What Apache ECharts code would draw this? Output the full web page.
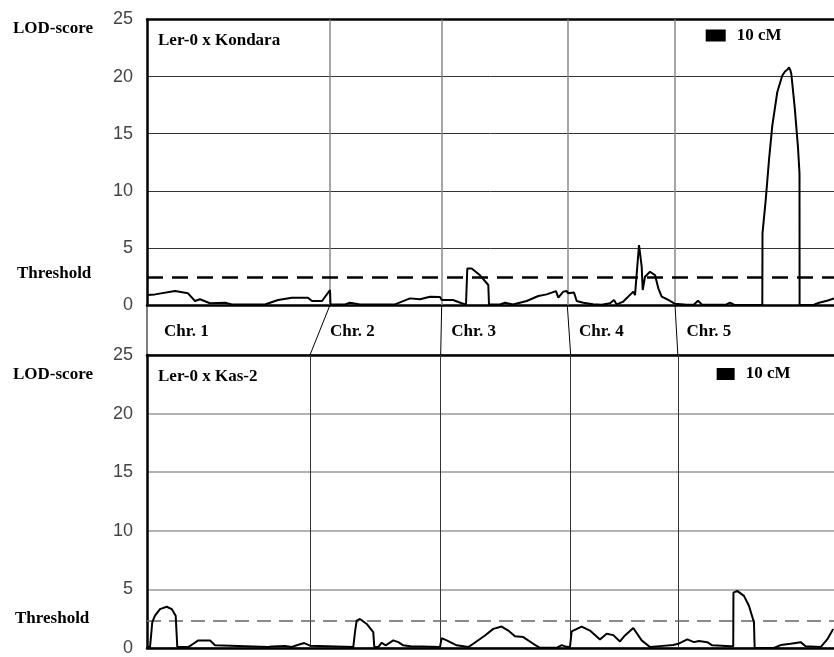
<!DOCTYPE html>
<html><head><meta charset="utf-8">
<script src="https://cdn.jsdelivr.net/npm/echarts@6/dist/echarts.min.js"></script>
<style>html,body{margin:0;padding:0;background:#fff}#c{width:834px;height:657px}</style>
</head><body><div id="c"></div>
<script>
// ---- data ----
const chromosomes = ['Chr. 1', 'Chr. 2', 'Chr. 3', 'Chr. 4', 'Chr. 5'];
const panelTitles = ['Ler-0 x Kondara', 'Ler-0 x Kas-2'];
const yTicks = [0, 5, 10, 15, 20, 25];
// chromosome boundaries (cM along the map) in each cross
const kondaraBounds = [91.5, 147.35, 210.15, 264];
const kas2Bounds = [90.56, 163.17, 235.39, 294.94];
const kondaraXMax = 343.5;
const kas2XMax = 381.7;
const kondaraThreshold = 2.4;
const kas2Threshold = 2.3;
// LOD profile: [position cM, LOD]
const kondaraLOD = [[0,0.87],[4,0.93],[14,1.22],[20.5,1.02],[24,0.35],[26.5,0.5],[31.5,0.15],[39,0.2],[42.5,0.05],[59,0.05],[65.5,0.44],[72.5,0.64],[80.5,0.64],[82.5,0.35],[87.5,0.35],[91.5,1.31],[91.75,0.05],[99,0.05],[101.5,0.2],[106.5,0.05],[124,0.05],[131.5,0.58],[136.5,0.5],[141.5,0.73],[146.5,0.7],[147.35,0.44],[153,0.44],[157.35,0.15],[159.5,0.05],[160.15,3.2],[162.35,3.2],[166.5,2.6],[170.65,1.75],[171,0.05],[176.5,0.05],[179,0.2],[183,0.05],[189.85,0.35],[195.65,0.79],[199.85,0.93],[204.5,1.22],[205.65,0.64],[208.15,1.17],[209.85,1.22],[210.65,1.02],[213.5,1.1],[214.85,0.35],[218.15,0.2],[223,0.07],[227.35,0.03],[231.5,0.15],[233.5,0.44],[234.85,0.05],[238.15,0.3],[243.15,1.17],[244,0.87],[246,5.25],[247.35,3.35],[247.85,1.31],[249,2.47],[251.5,2.91],[254,2.62],[255.65,1.46],[257.35,0.73],[260.65,0.44],[264,0.1],[269.85,0.03],[273.5,0.05],[275.5,0.37],[277.5,0.03],[289.5,0.03],[291.5,0.2],[293.5,0.03],[307.65,0],[307.75,6.3],[309.35,9.18],[311,12.7],[312.65,15.7],[315.15,18.65],[317.65,20.1],[319,20.45],[320.15,20.6],[321,20.8],[321.6,20.6],[322.15,20.25],[323.85,17.3],[325.5,13.8],[326.25,11.5],[326.3,0],[333.5,0.02],[336,0.2],[340,0.37],[343.5,0.58]];
const kas2LOD = [[0,0.05],[1.67,0.08],[2.94,2.2],[4.44,2.76],[7.22,3.32],[10.94,3.52],[13.72,3.32],[15.94,2.76],[16.83,0.08],[22.94,0.08],[25.72,0.36],[28.5,0.65],[35,0.65],[37.78,0.23],[38.72,0.08],[67.39,0.08],[69.28,0.13],[76.67,0.17],[80.39,0.08],[84.06,0.28],[87.39,0.42],[90.56,0.2],[91.5,0.08],[114.6,0.08],[115.56,1.35],[116.5,2.34],[118.33,2.48],[122.06,2.05],[125.72,1.35],[126.28,0.08],[128.5,0.08],[130.39,0.45],[132.61,0.23],[136.83,0.65],[139.61,0.5],[142.39,0.23],[147.06,0.13],[152.61,0.13],[162.78,0.08],[163.72,0.84],[166.5,0.65],[172.06,0.23],[178.5,0.08],[181.28,0.36],[187.78,1.07],[192.39,1.63],[197.06,1.83],[200.72,1.49],[204.44,1.01],[209.06,0.93],[214.61,0.36],[218.33,0.02],[227.61,0.02],[230.39,0.25],[233.17,0.1],[235,0.08],[235.94,1.41],[241.5,1.83],[246.11,1.49],[251.67,0.73],[255.39,1.21],[259.06,1.1],[262.78,0.56],[265.56,1.07],[270.17,1.71],[274.83,0.65],[279.44,0.08],[285,0.16],[292.39,0.25],[295.17,0.36],[300.17,0.73],[303.89,0.5],[306.67,0.6],[311.28,0.5],[314.06,0.23],[324.28,0.15],[325.72,0.15],[325.83,4.73],[327.94,4.87],[331.67,4.45],[334.44,3.6],[337.22,2.2],[337.61,0],[348.33,0],[352.06,0.25],[357.61,0.36],[363.17,0.5],[365.94,0.15],[374.28,0.08],[377.94,0.73],[381.28,1.63]];
// 10 cM scale bars
const scaleBarLabel = '10 cM';
const kondaraScaleBar = [[279.35,23.6],[289.35,23.6]];
const kas2ScaleBar = [[316.5,23.38],[326.5,23.38]];

// ---- chart ----
const SERIF = 'Liberation Serif, Times New Roman, serif';
const SANS = 'Liberation Sans, Arial, sans-serif';
const chart = echarts.init(document.getElementById('c'), null, {renderer: 'canvas'});

function xAx(grid, max, pos, w) {
  return {type: 'value', gridIndex: grid, min: 0, max: max, position: pos,
    axisLine: {show: true, onZero: false, lineStyle: {color: '#000', width: w}},
    axisTick: {show: false}, axisLabel: {show: false}, splitLine: {show: false}};
}
function yAx(grid, gridColor, gridWidth, pad) {
  return {type: 'value', gridIndex: grid, min: yTicks[0], max: yTicks[yTicks.length-1], interval: 5,
    axisLine: {show: true, lineStyle: {color: '#000', width: 2.5}},
    axisTick: {show: false},
    axisLabel: {color: '#444', fontFamily: SANS, fontSize: 18, margin: 14, padding: [pad, 0, 0, 0]},
    splitLine: {show: true, lineStyle: {color: gridColor, width: gridWidth}}};
}
function lodSeries(idx, data, bounds, thr, chrColor, chrWidth, thrStyle) {
  return {type: 'line', xAxisIndex: idx, yAxisIndex: idx, data: data, showSymbol: false, symbol: 'none',
    lineStyle: {color: '#000', width: 2}, z: 5, silent: true,
    markLine: {silent: true, symbol: 'none', label: {show: false}, animation: false,
      data: bounds.map(b => ({xAxis: b, lineStyle: {color: chrColor, width: chrWidth, type: 'solid'}}))
        .concat([{yAxis: thr, lineStyle: thrStyle}])}};
}
function barSeries(idx, data) {
  return {type: 'line', xAxisIndex: idx, yAxisIndex: idx, data: data, showSymbol: false, symbol: 'none',
    lineStyle: {color: '#000', width: 12, cap: 'butt'}, z: 6, silent: true,
    endLabel: {show: true, formatter: scaleBarLabel, distance: 11, color: '#000',
      fontFamily: SERIF, fontWeight: 'bold', fontSize: 17}};
}

chart.setOption({
  animation: false,
  backgroundColor: '#fff',
  grid: [
    {left: 147, top: 19.5, width: 687, height: 285.5},
    {left: 147, top: 355, width: 687, height: 296}
  ],
  xAxis: [xAx(0, kondaraXMax, 'bottom', 2.5), xAx(1, kas2XMax, 'bottom', 2.5),
          xAx(0, kondaraXMax, 'top', 2.5), xAx(1, kas2XMax, 'top', 2.5)],
  yAxis: [yAx(0, '#333', 1, 3), yAx(1, '#999', 1.5, 6)],
  series: [
    lodSeries(0, kondaraLOD, kondaraBounds, kondaraThreshold, '#888', 1.5, {color: '#000', width: 2.5, type: [16, 9]}),
    lodSeries(1, kas2LOD, kas2Bounds, kas2Threshold, '#333', 1, {color: '#666', width: 1.5, type: [14, 8]}),
    barSeries(0, kondaraScaleBar),
    barSeries(1, kas2ScaleBar)
  ]
});

// ---- annotations: side labels, band connecting the two maps ----
const p = (g, x, y) => chart.convertToPixel({gridIndex: g}, [x, y]);
const topZero = p(0, 0, 0), botTop = p(1, 0, 25);
const graphics = [];
function txt(x, y, s, align) {
  graphics.push({type: 'text', x: x, y: y, silent: true,
    style: {text: s, fill: '#000', font: 'bold 17px ' + SERIF, align: align || 'left', verticalAlign: 'middle'}});
}
// y-axis names and thresholds
const lodY0 = p(0, 0, 25)[1], lodY1 = p(1, 0, 25)[1];
txt(13, lodY0 + 9, 'LOD-score');
txt(13, lodY1 + 20, 'LOD-score');
txt(17, p(0, 0, kondaraThreshold)[1] - 4, 'Threshold');
txt(15, p(1, 0, kas2Threshold)[1] - 2, 'Threshold');
// panel titles
txt(158, lodY0 + 21, panelTitles[0]);
txt(158, lodY1 + 22, panelTitles[1]);
// band
graphics.push({type: 'line', silent: true, shape: {x1: topZero[0], y1: topZero[1], x2: botTop[0], y2: botTop[1]},
  style: {stroke: '#000', lineWidth: 1}});
const midY = (topZero[1] + botTop[1]) / 2 + 2;
txt(topZero[0] + 17, midY, chromosomes[0]);
kondaraBounds.forEach((b, i) => {
  const a = p(0, b, 0), c = p(1, kas2Bounds[i], 25);
  graphics.push({type: 'line', silent: true, shape: {x1: a[0], y1: a[1], x2: c[0], y2: c[1]},
    style: {stroke: '#000', lineWidth: 1}});
  txt((a[0] + c[0]) / 2 + 10, midY, chromosomes[i + 1]);
});
chart.setOption({graphic: graphics});
</script></body></html>
